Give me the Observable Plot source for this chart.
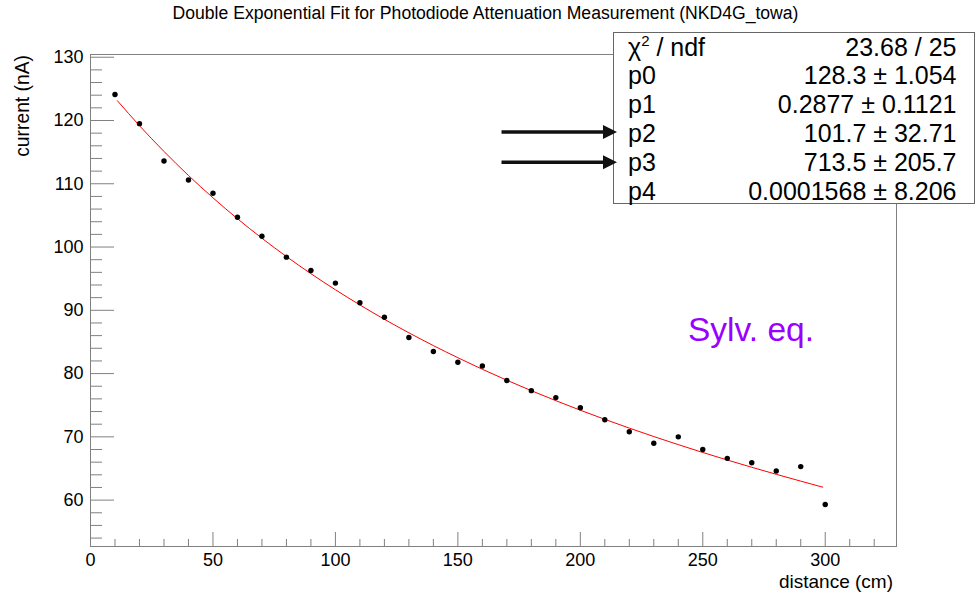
<!DOCTYPE html>
<html>
<head>
<meta charset="utf-8">
<script src="https://cdn.jsdelivr.net/npm/d3@7"></script>
<script src="https://cdn.jsdelivr.net/npm/@observablehq/plot@0.6"></script>
<style>
  html, body { margin: 0; padding: 0; background: #fff; overflow: hidden; }
  #chart svg { display: block; }
</style>
</head>
<body>
<div id="chart"></div>
<script>
// ---- data ----
const distance = [10, 20, 30, 40, 50, 60, 70, 80, 90, 100, 110, 120, 130, 140, 150,
                  160, 170, 180, 190, 200, 210, 220, 230, 240, 250, 260, 270, 280, 290, 300];
const current = [124.1, 119.5, 113.6, 110.6, 108.5, 104.7, 101.7, 98.4, 96.3, 94.3,
                 91.2, 88.9, 85.7, 83.5, 81.8, 81.2, 78.9, 77.3, 76.2, 74.6,
                 72.7, 70.8, 69.0, 70.0, 68.0, 66.6, 65.9, 64.6, 65.3, 59.3];
// fit curve as drawn
const fitX = [11, 20, 30, 40, 50, 60, 70, 80, 90, 100, 110, 120, 130, 140, 150,
              160, 170, 180, 190, 200, 210, 220, 230, 240, 250, 260, 270, 280, 290, 299];
const fitY = [123.12, 119.18, 115.11, 111.31, 107.78, 104.48, 101.39, 98.50, 95.79, 93.25,
              90.85, 88.58, 86.45, 84.42, 82.51, 80.68, 78.95, 77.30, 75.72, 74.21,
              72.77, 71.38, 70.05, 68.77, 67.53, 66.34, 65.19, 64.08, 63.00, 62.05];
const xMajor = [0, 50, 100, 150, 200, 250, 300];
const xMinor = [10, 20, 30, 40, 60, 70, 80, 90, 110, 120, 130, 140, 160, 170, 180, 190,
                210, 220, 230, 240, 260, 270, 280, 290, 310, 320];
const yMajor = [60, 70, 80, 90, 100, 110, 120, 130];
const yMinor = [54, 56, 58, 62, 64, 66, 68, 72, 74, 76, 78, 82, 84, 86, 88, 92, 94, 96, 98,
                102, 104, 106, 108, 112, 114, 116, 118, 122, 124, 126, 128];
const statLabels = ["χ", "p0", "p1", "p2", "p3", "p4"];
const statValues = ["23.68 / 25", "128.3 ± 1.054", "0.2877 ± 0.1121", "101.7 ± 32.71",
                    "713.5 ± 205.7", "0.0001568 ± 8.206"];
const arrowRows = [3, 4]; // arrows point at p2 and p3
const titleText = "Double Exponential Fit for Photodiode Attenuation Measurement (NKD4G_towa)";
const xTitle = "distance (cm)";
const yTitle = "current (nA)";
const note = "Sylv. eq.";

const points = distance.map((d, i) => ({x: d, y: current[i]}));
const fit = fitX.map((d, i) => ({x: d, y: fitY[i]}));

// ---- layout ----
const W = 975, H = 592;
const mL = 90, mR = 79, mT = 54, mB = 46;
const pw = W - mL - mR, ph = H - mT - mB;
const font = "'Liberation Sans', Arial, Helvetica, sans-serif";
const axisGray = "#808080";

const svg = Plot.plot({
  width: W, height: H,
  marginLeft: mL, marginRight: mR, marginTop: mT, marginBottom: mB,
  style: {fontFamily: font, fontSize: "18px", color: "#000", background: "#fff"},
  x: {domain: [0, 329.1]},
  y: {domain: [52.67, 130.43]},
  marks: [
    Plot.frame({stroke: axisGray}),
    Plot.tickY(yMinor, {y: d => d, insetRight: pw - 12, stroke: axisGray}),
    Plot.tickY(yMajor, {y: d => d, insetRight: pw - 24, stroke: axisGray}),
    Plot.tickX(xMinor, {x: d => d, insetTop: ph - 7, stroke: axisGray}),
    Plot.tickX(xMajor, {x: d => d, insetTop: ph - 14, stroke: axisGray}),
    Plot.axisY({ticks: yMajor, tickSize: 0, tickPadding: 7, label: null, fontSize: 18}),
    Plot.axisX({ticks: xMajor, tickSize: 0, tickPadding: 7, label: null, fontSize: 18}),
    Plot.line(fit, {x: "x", y: "y", stroke: "#ff0000", strokeWidth: 1, curve: "monotone-x"}),
    Plot.dot(points, {x: "x", y: "y", r: 2.7, fill: "#000", stroke: null})
  ]
});
document.getElementById("chart").appendChild(svg);

// ---- annotations ----
const s = d3.select(svg);
const g = s.append("g").attr("font-family", font).attr("fill", "#000").attr("text-anchor", "start");

g.append("text").attr("x", W / 2 - 2).attr("y", 19).attr("text-anchor", "middle")
  .attr("font-size", 17.6).text(titleText);

g.append("text").attr("x", 893).attr("y", 587.5).attr("text-anchor", "end")
  .attr("font-size", 19).text(xTitle);

g.append("text").attr("transform", "translate(29,55) rotate(-90)").attr("text-anchor", "end")
  .attr("font-size", 19.3).text(yTitle);

g.append("text").attr("x", 688).attr("y", 340.5).attr("font-size", 33.5)
  .attr("text-anchor", "start").attr("fill", "#9900ff").text(note);

// stats box
const bx = 613.5, by = 32.5, bw = 361, bh = 171;
g.append("rect").attr("x", bx).attr("y", by).attr("width", bw).attr("height", bh)
  .attr("fill", "#fff").attr("stroke", "#666").attr("stroke-width", 1);
const rowBase = i => 55.5 + i * 28.8;
statLabels.forEach((lab, i) => {
  const t = g.append("text").attr("x", 628).attr("y", rowBase(i)).attr("font-size", 25)
    .attr("text-anchor", "start");
  if (i === 0) {
    t.append("tspan").text(lab);
    t.append("tspan").attr("font-size", 15).attr("dy", -10).text("2");
    t.append("tspan").attr("dy", 10).text(" / ndf");
  } else {
    t.text(lab);
  }
  g.append("text").attr("x", 956.5).attr("y", rowBase(i)).attr("text-anchor", "end")
    .attr("font-size", 25).text(statValues[i]);
});

// arrows
arrowRows.forEach((r, k) => {
  const y = rowBase(r) - 10 + k * 1.5;
  g.append("line").attr("x1", 501.5).attr("x2", 605).attr("y1", y).attr("y2", y)
    .attr("stroke", "#111").attr("stroke-width", 3.5);
  g.append("path").attr("d", `M617,${y}L603,${y - 7}L603,${y + 7}Z`).attr("fill", "#111");
});
</script>
</body>
</html>
